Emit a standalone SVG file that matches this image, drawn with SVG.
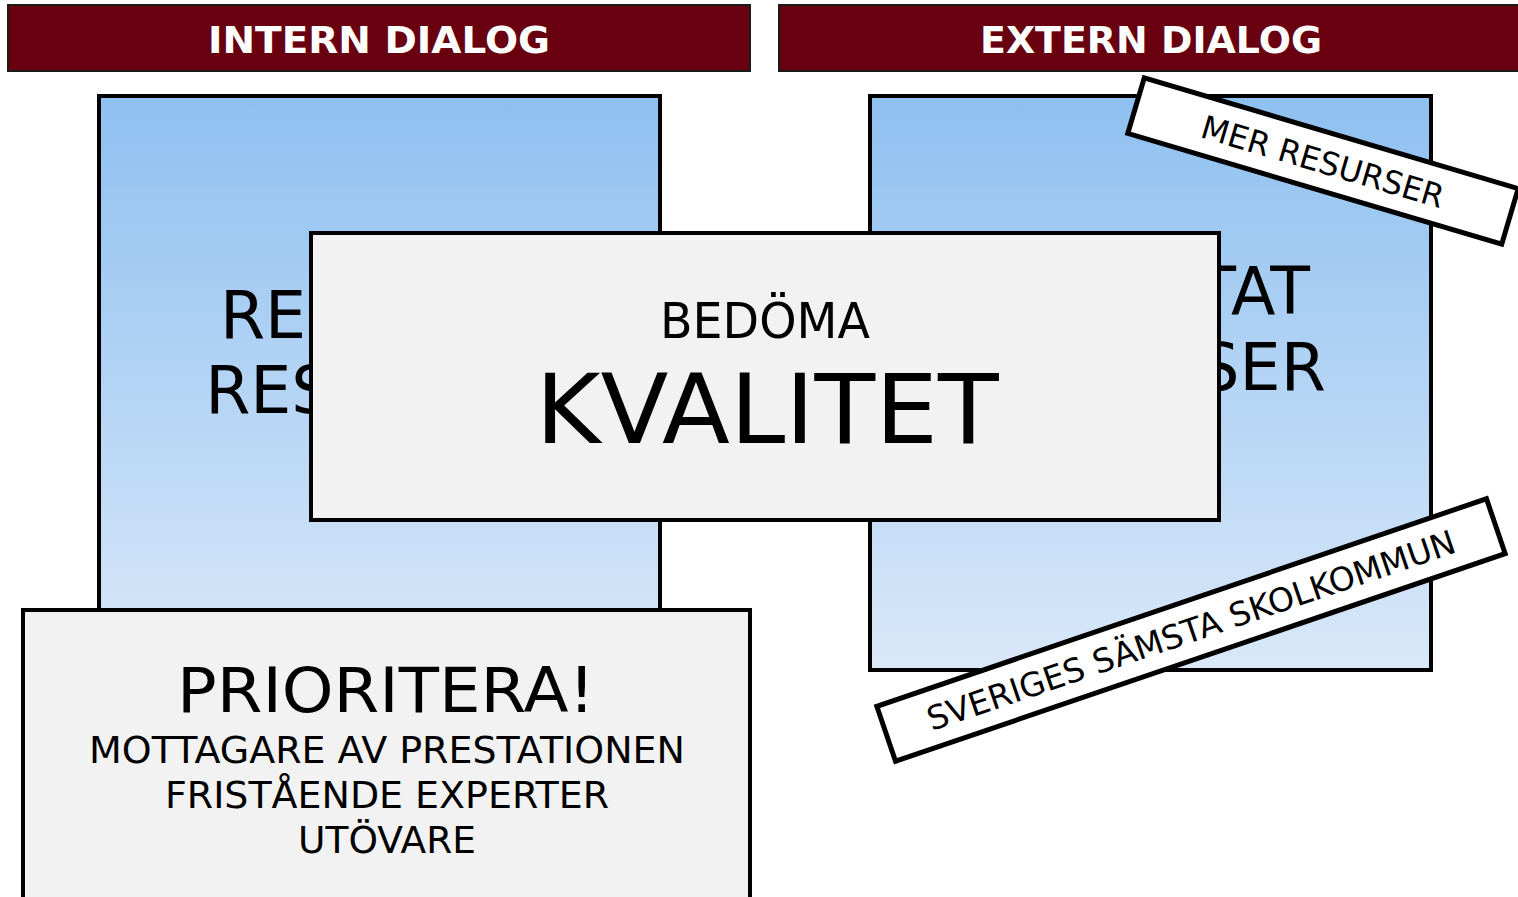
<svg xmlns="http://www.w3.org/2000/svg" width="1518" height="897" viewBox="0 0 1518 897">
  <defs>
    <linearGradient id="blueGrad" x1="0" y1="0" x2="0" y2="1">
      <stop offset="0" stop-color="#8ec0f0"/>
      <stop offset="1" stop-color="#d9e8f9"/>
    </linearGradient>
    <style>
      .hdr { fill: #680010; stroke: #1a1a1a; stroke-width: 2; }
      .hdrText { font-family: "DejaVu Sans", Verdana, sans-serif; font-weight: bold; font-size: 38px; fill: #ffffff; text-anchor: middle; }
      .blue { fill: url(#blueGrad); stroke: #000; stroke-width: 4; }
      .grey { fill: #f2f2f2; stroke: #000; stroke-width: 4; }
      .tag { fill: #ffffff; stroke: #000; stroke-width: 5; }
      .t { font-family: "DejaVu Sans", Verdana, sans-serif; fill: #000; text-anchor: middle; }
    </style>
  </defs>

  <g id="header-intern">
    <rect class="hdr" x="8" y="5" width="742" height="66"/>
    <text class="hdrText" x="379" y="53" textLength="342" lengthAdjust="spacingAndGlyphs">INTERN DIALOG</text>
  </g>
  <g id="header-extern">
    <rect class="hdr" x="779" y="5" width="745" height="66"/>
    <text class="hdrText" x="1151" y="53" textLength="342" lengthAdjust="spacingAndGlyphs">EXTERN DIALOG</text>
  </g>

  <g id="box-left">
    <rect class="blue" x="99" y="96" width="561" height="574"/>
    <text class="t" x="378" y="338" font-size="65">RESULTAT</text>
    <text class="t" x="379" y="413" font-size="65">RESURSER</text>
  </g>
  <g id="box-right">
    <rect class="blue" x="870" y="96" width="561" height="574"/>
    <text class="t" x="1152" y="314" font-size="65">RESULTAT</text>
    <text class="t" x="1152" y="390" font-size="65">RESURSER</text>
  </g>

  <g id="box-kvalitet">
    <rect class="grey" x="311" y="233" width="908" height="287"/>
    <text class="t" x="765" y="338" font-size="49" textLength="210" lengthAdjust="spacingAndGlyphs">BEDÖMA</text>
    <text class="t" x="767" y="443" font-size="97" textLength="463" lengthAdjust="spacingAndGlyphs">KVALITET</text>
  </g>

  <g id="box-prioritera">
    <rect class="grey" x="23" y="610" width="727" height="300"/>
    <text class="t" x="386" y="712" font-size="63" textLength="418" lengthAdjust="spacingAndGlyphs">PRIORITERA!</text>
    <text class="t" x="387" y="763" font-size="38" textLength="596" lengthAdjust="spacingAndGlyphs">MOTTAGARE AV PRESTATIONEN</text>
    <text class="t" x="387" y="808" font-size="38" textLength="444" lengthAdjust="spacingAndGlyphs">FRISTÅENDE EXPERTER</text>
    <text class="t" x="387" y="853" font-size="38" textLength="178" lengthAdjust="spacingAndGlyphs">UTÖVARE</text>
  </g>

  <g id="tag-mer-resurser" transform="translate(1323,161) rotate(16.5)">
    <rect class="tag" x="-195" y="-29" width="390" height="58"/>
    <text class="t" x="0" y="12" font-size="32">MER RESURSER</text>
  </g>

  <g id="tag-sveriges" transform="translate(1191,630) rotate(-18.8)">
    <rect class="tag" x="-322" y="-29" width="644" height="58"/>
    <text class="t" x="0" y="12" font-size="33">SVERIGES SÄMSTA SKOLKOMMUN</text>
  </g>

  <g id="connectors"/>
</svg>
